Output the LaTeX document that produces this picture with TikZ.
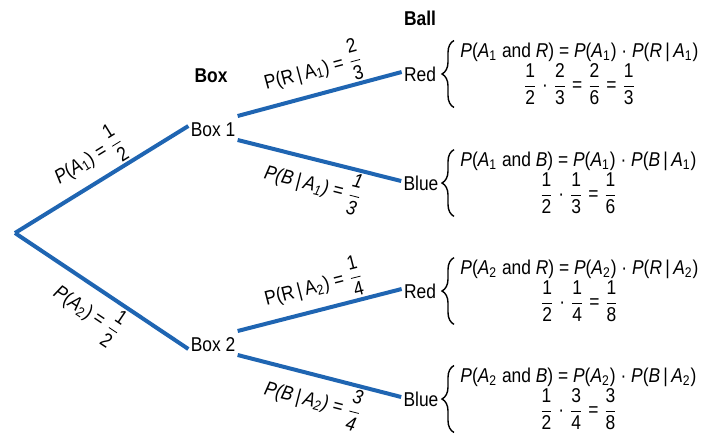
\documentclass[tikz,border=0pt]{standalone}
\usepackage{amsmath}
\usepackage{fontspec}
\setmainfont{Liberation Sans}[FakeStretch=0.87]
\usetikzlibrary{decorations.pathreplacing}
\definecolor{treeblue}{RGB}{31,101,178}
\newcommand{\fr}[2]{$\dfrac{\text{#1}}{\text{#2}}$}
\newcommand{\given}{\,|\,}
\begin{document}
\begin{tikzpicture}[
        x=0.5pt, y=-0.5pt,
        every node/.style={font=\normalsize, inner sep=1pt},
        branch/.style={draw=treeblue, line width=2pt},
        head/.style={font=\bfseries},
        prob/.style={midway, sloped, inner sep=1pt},
        formula/.style={anchor=west, align=center, inner sep=0pt},
        brace/.style={draw, line width=0.7pt, decorate, decoration={brace, amplitude=6pt}}
    ]
        \useasboundingbox (0,0) rectangle (706,434);

        \node[head] (ballhead) at (420,18) {Ball};
        \node[head] (boxhead) at (211,76) {Box};

        \coordinate (root) at (15,233);
        \node (box1) at (213,130) {Box 1};
        \node (box2) at (213,345) {Box 2};
        \node (red1) at (420,74) {Red};
        \node (blue1) at (421,183) {Blue};
        \node (red2) at (420,291) {Red};
        \node (blue2) at (421,399) {Blue};

        \draw[branch] (root) -- ([yshift=2pt]box1.west)
            node[prob, above] {\textit{P}(\textit{A}\textsubscript{1}) = \fr{1}{2}};
        \draw[branch] (root) -- ([yshift=-2pt]box2.west)
            node[prob, below] {\textit{P}(\textit{A}\textsubscript{2}) = \fr{1}{2}};

        \draw[branch] ([yshift=7pt]box1.east) -- ([yshift=1pt]red1.west)
            node[prob, above] {P(R\given A\textsubscript{1}) = \fr{2}{3}};
        \draw[branch] ([yshift=-5pt]box1.east) -- ([yshift=1pt]blue1.west)
            node[prob, below] {\itshape P(B\given A\textsubscript{1}) = \fr{1}{3}};
        \draw[branch] ([yshift=7pt]box2.east) -- ([yshift=1pt]red2.west)
            node[prob, above] {P(R\given A\textsubscript{2}) = \fr{1}{4}};
        \draw[branch] ([yshift=-5pt]box2.east) -- ([yshift=1pt]blue2.west)
            node[prob, below] {\itshape P(B\given A\textsubscript{2}) = \fr{3}{4}};

        \node[formula] (f1) at (460,74)
        {\textit{P}(\textit{A}\textsubscript{1} and \textit{R}) = \textit{P}(\textit{A}\textsubscript{1}) · \textit{P}(\textit{R}\given\textit{A}\textsubscript{1})\\
         \fr{1}{2} · \fr{2}{3} = \fr{2}{6} = \fr{1}{3}};
        \node[formula] (f2) at (460,183)
        {\textit{P}(\textit{A}\textsubscript{1} and \textit{B}) = \textit{P}(\textit{A}\textsubscript{1}) · \textit{P}(\textit{B}\given\textit{A}\textsubscript{1})\\
         \fr{1}{2} · \fr{1}{3} = \fr{1}{6}};
        \node[formula] (f3) at (460,291)
        {\textit{P}(\textit{A}\textsubscript{2} and \textit{R}) = \textit{P}(\textit{A}\textsubscript{2}) · \textit{P}(\textit{R}\given\textit{A}\textsubscript{2})\\
         \fr{1}{2} · \fr{1}{4} = \fr{1}{8}};
        \node[formula] (f4) at (460,399)
        {\textit{P}(\textit{A}\textsubscript{2} and \textit{B}) = \textit{P}(\textit{A}\textsubscript{2}) · \textit{P}(\textit{B}\given\textit{A}\textsubscript{2})\\
         \fr{1}{2} · \fr{3}{4} = \fr{3}{8}};

        \foreach \f in {f1, f2, f3, f4}
            \draw[brace] ([xshift=-3pt, yshift=-1pt]\f.south west) -- ([xshift=-3pt, yshift=1pt]\f.north west);
    \end{tikzpicture}
\end{document}
